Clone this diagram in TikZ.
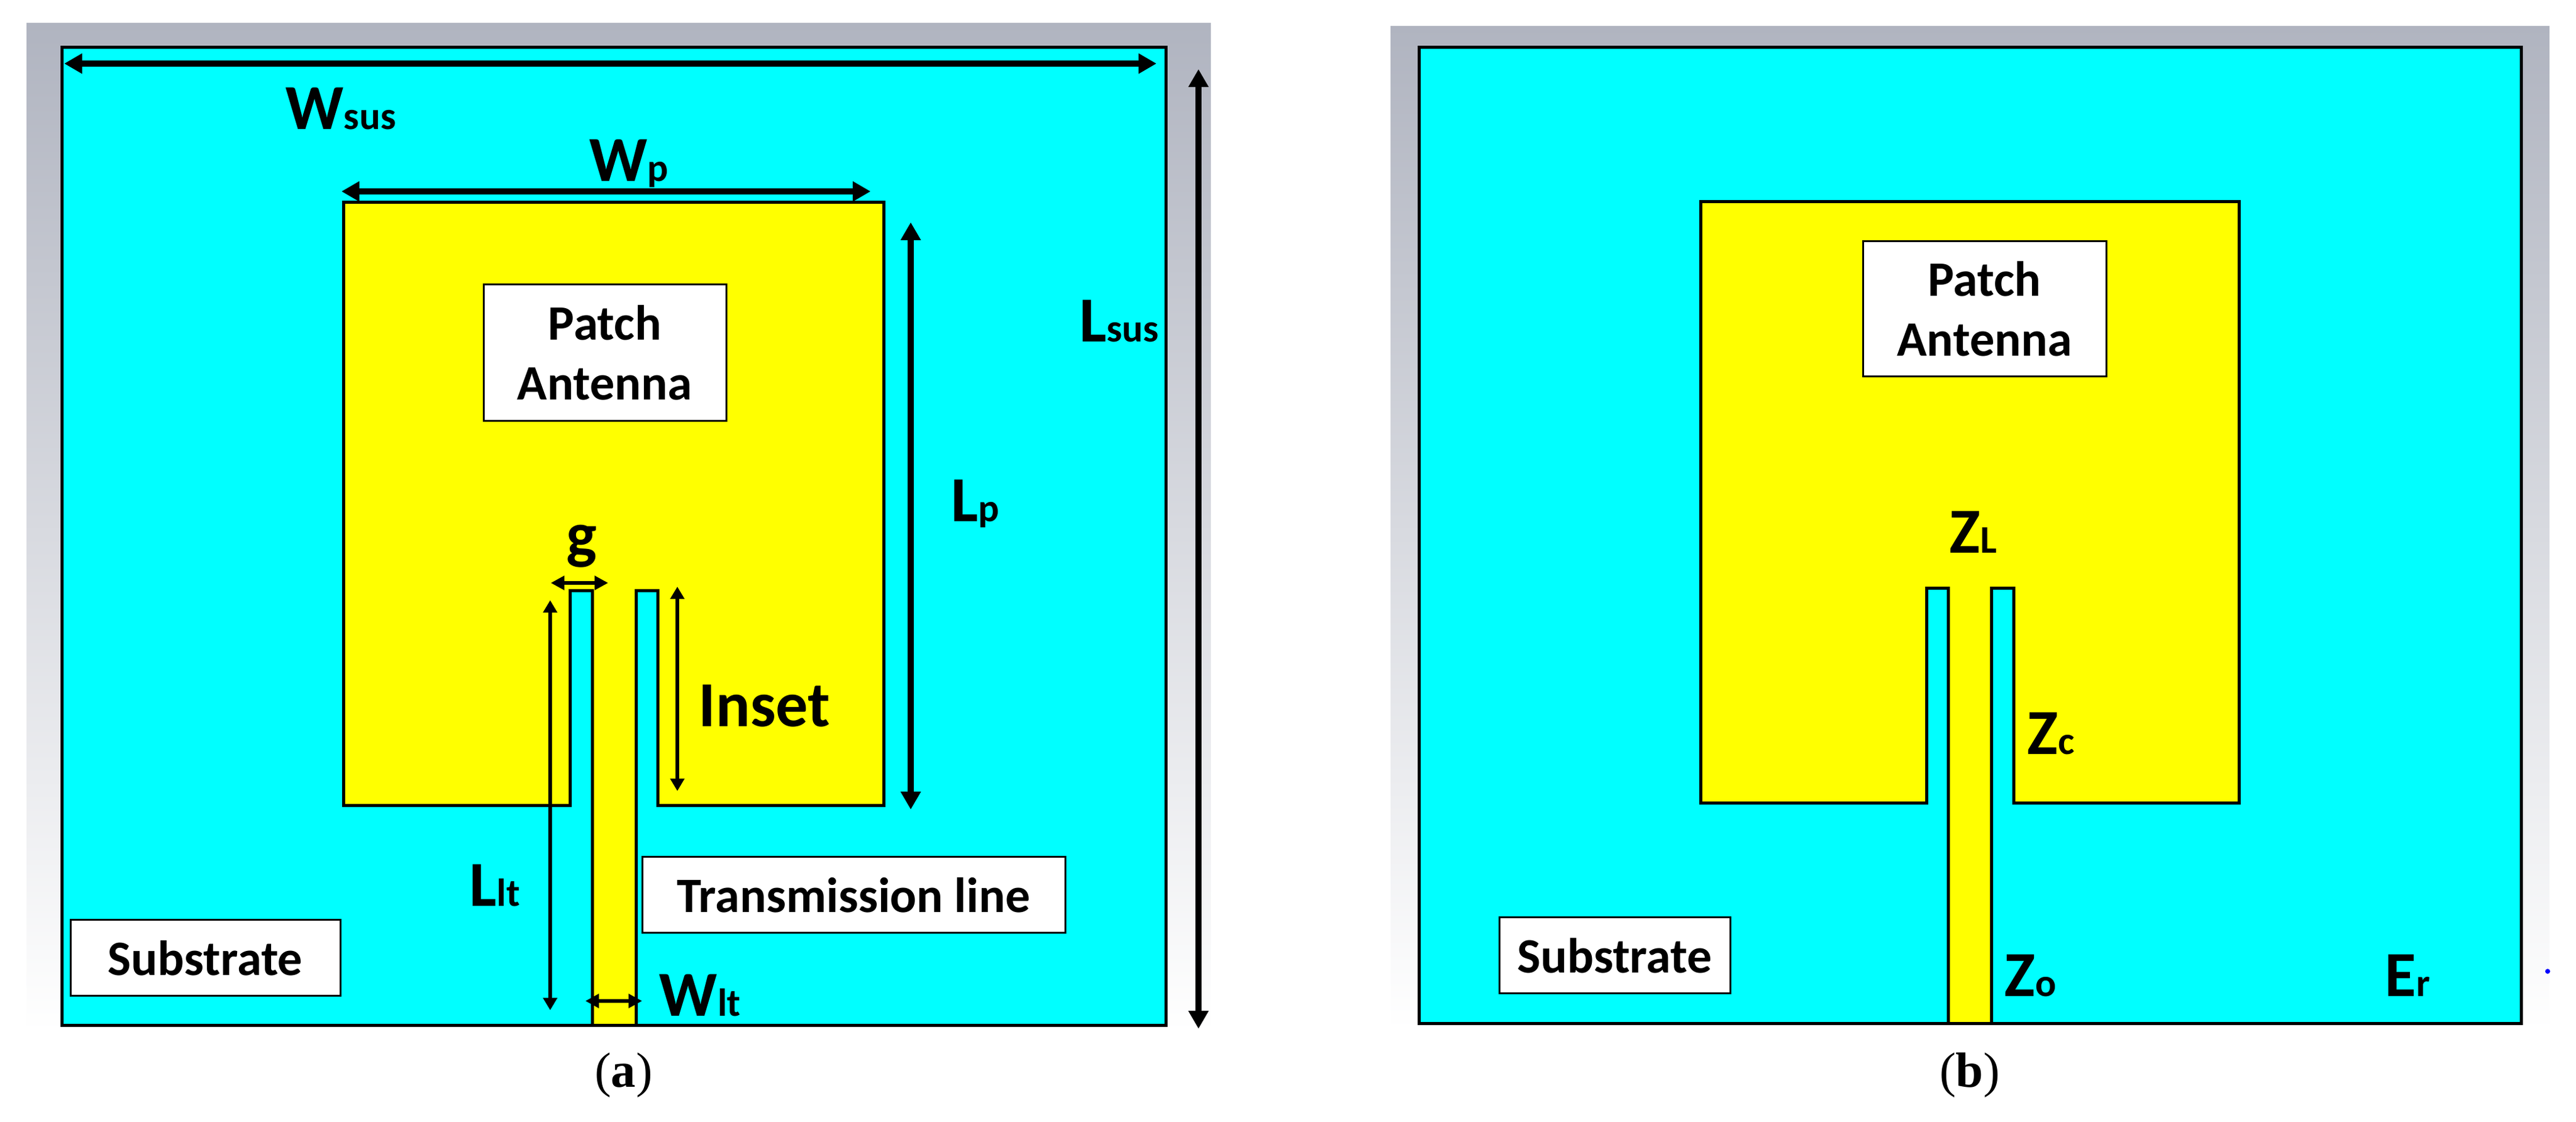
\documentclass[tikz,border=0pt]{standalone}
\usepackage{fontspec}
\setmainfont{Carlito}
\newfontfamily\capfont{Liberation Serif}
\usetikzlibrary{arrows.meta}

\newcommand{\dimlabel}[2]{{\fontsize{29.6}{30}\selectfont\bfseries #1}{\fontsize{18}{20}\selectfont\bfseries #2}}

\tikzset{
  frame/.style={top color=frametop, bottom color=white},
  substrate/.style={draw=black, line width=0.05cm, fill=cyan},
  metal/.style={draw=black, line width=0.05cm, fill=yellow},
  whitebox/.style={draw=black, line width=0.03cm, fill=white, inner sep=0pt, font=\fontsize{22.8}{27.5}\selectfont\bfseries, align=center},
  dimlbl/.style={anchor=base west, inner sep=0pt},
  dimthick/.style={{Triangle[length=0.29cm,width=0.31cm]}-{Triangle[length=0.29cm,width=0.31cm]}, line width=0.10cm},
  dimthin/.style={{Triangle[length=0.20cm,width=0.22cm]}-{Triangle[length=0.20cm,width=0.22cm]}, line width=0.06cm},
  dimshort/.style={{Triangle[length=0.22cm,width=0.22cm]}-{Triangle[length=0.22cm,width=0.22cm]}, line width=0.065cm},
  caption/.style={anchor=base, inner sep=0pt, font=\capfont\fontsize{22.8}{24}\selectfont}
}
\definecolor{frametop}{RGB}{176,180,192}
\definecolor{cyan}{RGB}{0,255,255}
\definecolor{yellow}{RGB}{255,255,0}

\begin{document}
\begin{tikzpicture}
  \useasboundingbox (0, 0) rectangle (41.72, 18.16);

  % panel a
  \shade[frame] (0.43, 1.44) rectangle (19.61, 17.78);
  \draw[substrate] (1.00, 1.55) rectangle (18.88, 17.39);
  \draw[metal] (5.56, 14.88) -- (14.31, 14.88) -- (14.31, 5.11) -- (10.65, 5.11) -- (10.65, 8.59)
    -- (10.30, 8.59) -- (10.30, 1.55) -- (9.59, 1.55) -- (9.59, 8.59) -- (9.23, 8.59)
    -- (9.23, 5.11) -- (5.56, 5.11) -- cycle;

  \node[whitebox, minimum width=3.93cm, minimum height=2.21cm] (patch_a) at (9.795, 12.445) {Patch\\Antenna};
  \node[whitebox, minimum width=6.85cm, minimum height=1.23cm] (line_a) at (13.825, 3.665) {Transmission line};
  \node[whitebox, minimum width=4.37cm, minimum height=1.23cm] (sub_a) at (3.325, 2.645) {Substrate};

  \coordinate (w_sus1) at (1.04, 17.13);
  \coordinate (w_sus2) at (18.73, 17.13);
  \coordinate (w_p1) at (5.53, 15.06);
  \coordinate (w_p2) at (14.10, 15.06);
  \coordinate (l_sus1) at (19.41, 17.04);
  \coordinate (l_sus2) at (19.41, 1.50);
  \coordinate (l_p1) at (14.75, 14.56);
  \coordinate (l_p2) at (14.75, 5.05);
  \coordinate (ins1) at (10.97, 8.66);
  \coordinate (ins2) at (10.97, 5.35);
  \coordinate (l_lt1) at (8.91, 8.44);
  \coordinate (l_lt2) at (8.91, 1.80);
  \coordinate (g1) at (8.92, 8.72);
  \coordinate (g2) at (9.85, 8.72);
  \coordinate (w_lt1) at (9.48, 1.95);
  \coordinate (w_lt2) at (10.40, 1.95);

  \draw[dimthick] (w_sus1) -- (w_sus2);
  \draw[dimthick] (w_p1) -- (w_p2);
  \draw[dimthick] (l_sus1) -- (l_sus2);
  \draw[dimthick] (l_p1) -- (l_p2);
  \draw[dimthin] (ins1) -- (ins2);
  \draw[dimthin] (l_lt1) -- (l_lt2);
  \draw[dimshort] (g1) -- (g2);
  \draw[dimshort] (w_lt1) -- (w_lt2);

  \node[dimlbl] (lbl_wsus) at (4.62, 16.06) {\dimlabel{W}{sus}};
  \node[dimlbl] (lbl_wp) at (9.54, 15.22) {\dimlabel{W}{p}};
  \node[dimlbl] (lbl_lsus) at (17.48, 12.62) {\dimlabel{L}{sus}};
  \node[dimlbl] (lbl_lp) at (15.40, 9.71) {\dimlabel{L}{p}};
  \node[dimlbl, anchor=base] (lbl_g) at (9.42, 9.14) {\dimlabel{g}{}};
  \node[dimlbl] (lbl_inset) at (11.31, 6.39) {\dimlabel{Inset}{}};
  \node[dimlbl] (lbl_llt) at (7.60, 3.48) {\dimlabel{L}{lt}};
  \node[dimlbl] (lbl_wlt) at (10.67, 1.70) {\dimlabel{W}{lt}};
  \node[caption] (cap_a) at (10.10, 0.55) {(\textbf{a})};

  % panel b
  \shade[frame] (22.52, 1.48) rectangle (41.29, 17.73);
  \draw[substrate] (22.98, 1.58) rectangle (40.83, 17.39);
  \draw[metal] (27.54, 14.89) -- (36.26, 14.89) -- (36.26, 5.15) -- (32.61, 5.15) -- (32.61, 8.63)
    -- (32.25, 8.63) -- (32.25, 1.58) -- (31.55, 1.58) -- (31.55, 8.63) -- (31.20, 8.63)
    -- (31.20, 5.15) -- (27.54, 5.15) -- cycle;
  \fill[blue] (41.26, 2.43) circle (0.04);

  \node[whitebox, minimum width=3.94cm, minimum height=2.19cm] (patch_b) at (32.14, 13.155) {Patch\\Antenna};
  \node[whitebox, minimum width=3.74cm, minimum height=1.23cm] (sub_b) at (26.15, 2.685) {Substrate};

  \node[dimlbl] (lbl_zl) at (31.57, 9.20) {\dimlabel{Z}{L}};
  \node[dimlbl] (lbl_zc) at (32.83, 5.94) {\dimlabel{Z}{c}};
  \node[dimlbl] (lbl_zo) at (32.46, 2.02) {\dimlabel{Z}{o}};
  \node[dimlbl] (lbl_er) at (38.62, 2.02) {\dimlabel{E}{r}};
  \node[caption] (cap_b) at (31.90, 0.56) {(\textbf{b})};
\end{tikzpicture}
\end{document}
